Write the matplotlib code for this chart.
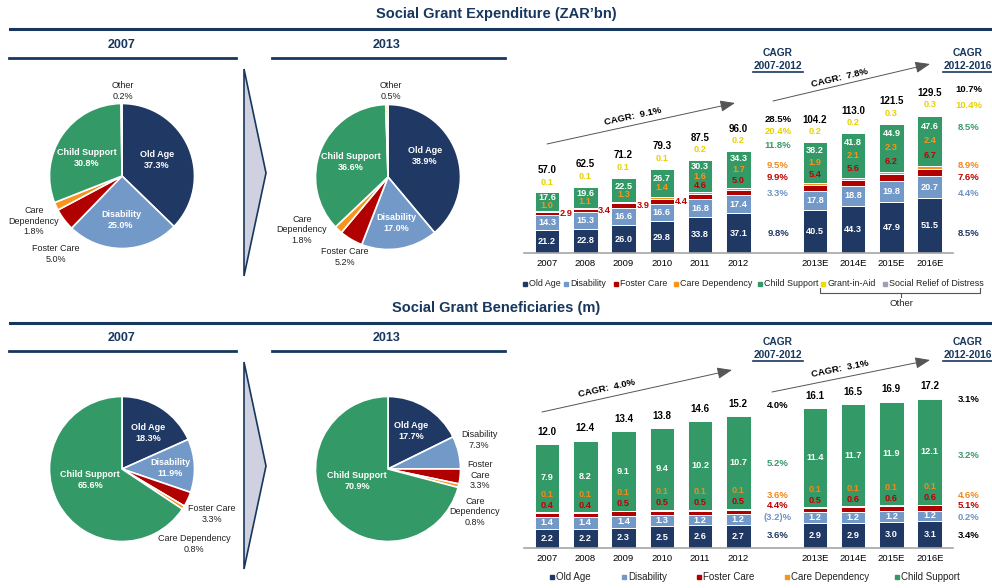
import numpy as np
import matplotlib
matplotlib.use('Agg')
import matplotlib.pyplot as plt
from matplotlib.patches import Polygon

plt.rcParams['font.family'] = ['Liberation Sans', 'DejaVu Sans']

# -=-=-=-=-=- data -=-=-=-=-=- #

years = ['2007', '2008', '2009', '2010', '2011', '2012', '2013E', '2014E', '2015E', '2016E']

# expenditure, ZAR bn
exp_old_age = [21.2, 22.8, 26.0, 29.8, 33.8, 37.1, 40.5, 44.3, 47.9, 51.5]
exp_disability = [14.3, 15.3, 16.6, 16.6, 16.8, 17.4, 17.8, 18.8, 19.8, 20.7]
exp_foster = [2.9, 3.4, 3.9, 4.4, 4.6, 5.0, 5.4, 5.6, 6.2, 6.7]
exp_care_dep = [1.0, 1.1, 1.3, 1.4, 1.6, 1.7, 1.9, 2.1, 2.3, 2.4]
exp_child = [17.6, 19.6, 22.5, 26.7, 30.3, 34.3, 38.2, 41.8, 44.9, 47.6]
exp_gia = [0.1, 0.1, 0.1, 0.1, 0.2, 0.2, 0.2, 0.2, 0.3, 0.3]
exp_srd = [0.1, 0.2, 0.8, 0.3, 0.2, 0.3, 0.2, 0.2, 0.1, 0.3]
exp_total = [57.0, 62.5, 71.2, 79.3, 87.5, 96.0, 104.2, 113.0, 121.5, 129.5]

exp_cagr_07_12 = ['28.5%', '20.4%', '11.8%', '9.5%', '9.9%', '3.3%', '9.8%']
exp_cagr_12_16 = ['10.7%', '10.4%', '8.5%', '8.9%', '7.6%', '4.4%', '8.5%']
exp_cagr_total = ['9.1%', '7.8%']

# beneficiaries, m
ben_old_age = [2.2, 2.2, 2.3, 2.5, 2.6, 2.7, 2.9, 2.9, 3.0, 3.1]
ben_disability = [1.4, 1.4, 1.4, 1.3, 1.2, 1.2, 1.2, 1.2, 1.2, 1.2]
ben_foster = [0.4, 0.4, 0.5, 0.5, 0.5, 0.5, 0.5, 0.6, 0.6, 0.6]
ben_care_dep = [0.1, 0.1, 0.1, 0.1, 0.1, 0.1, 0.1, 0.1, 0.1, 0.1]
ben_child = [7.9, 8.2, 9.1, 9.4, 10.2, 10.7, 11.4, 11.7, 11.9, 12.1]
ben_total = [12.0, 12.4, 13.4, 13.8, 14.6, 15.2, 16.1, 16.5, 16.9, 17.2]

ben_cagr_07_12 = ['4.0%', '5.2%', '3.6%', '4.4%', '(3.2)%', '3.6%']
ben_cagr_12_16 = ['3.1%', '3.2%', '4.6%', '5.1%', '0.2%', '3.4%']
ben_cagr_total = ['4.0%', '3.1%']

# pie shares, %
exp_share_2007 = [37.3, 25.0, 5.0, 1.8, 30.8, 0.2]
exp_share_2013 = [38.9, 17.0, 5.2, 1.8, 36.6, 0.5]
ben_share_2007 = [18.3, 11.9, 3.3, 0.8, 65.6]
ben_share_2013 = [17.7, 7.3, 3.3, 0.8, 70.9]

# -=-=-=-=-=- style -=-=-=-=-=- #

NAVY = '#1F3864'
LBLUE = '#7399C9'
RED = '#B00000'
ORANGE = '#F7941D'
GREEN = '#339966'
YELLOW = '#EEDC00'
GREY = '#9DA1B8'
TITLE = '#17375E'
TXT_YEL = '#E8D200'
TXT_BLUE = '#6F93C6'
TXT_GREEN = '#3A9A6A'
TXT_ORANGE = '#F08A1C'
TXT_RED = '#C00000'

W, H = 992, 588
fig = plt.figure(figsize=(W / 100, H / 100), dpi=100)


def px_axes(x0, y0, x1, y1):
    return fig.add_axes([x0 / W, 1 - y1 / H, (x1 - x0) / W, (y1 - y0) / H])


# overlay for titles, lines, arrows
ov = px_axes(0, 0, W, H)
ov.set_xlim(0, W)
ov.set_ylim(H, 0)
ov.axis('off')
ov.set_zorder(10)
ov.patch.set_alpha(0)

# -=-=-=-=-=- headers -=-=-=-=-=- #

for title, ty, hy in [('Social Grant Expenditure (ZAR\u2019bn)', 14, 45),
                      ('Social Grant Beneficiaries (m)', 308, 338)]:
    ov.text(496, ty, title, ha='center', va='center', fontsize=10.5, fontweight='bold', color=TITLE)
    ov.plot([10, 992], [ty + 15, ty + 15], color=TITLE, lw=2.2)
    ov.text(122, hy, '2007', ha='center', va='center', fontsize=9, fontweight='bold', color=TITLE)
    ov.text(387, hy, '2013', ha='center', va='center', fontsize=9, fontweight='bold', color=TITLE)
    ov.plot([9, 236], [hy + 13, hy + 13], color=TITLE, lw=2)
    ov.plot([272, 505], [hy + 13, hy + 13], color=TITLE, lw=2)
    # chevron between the pies
    top = hy + 24
    chev = Polygon([[244, top], [266, top + 104], [244, top + 207]], closed=True,
                   facecolor='#CFD0E0', edgecolor=TITLE, lw=1.2)
    ov.add_patch(chev)

# -=-=-=-=-=- pies -=-=-=-=-=- #

pie_colors = [NAVY, LBLUE, RED, ORANGE, GREEN, YELLOW]
R = 72.5


def draw_pie(cx, cy, shares):
    ax = px_axes(cx - R, cy - R, cx + R, cy + R)
    ax.pie(shares, colors=pie_colors[:len(shares)], startangle=90, counterclock=False,
           wedgeprops=dict(edgecolor='white', linewidth=1.2))
    ax.set_xlim(-1, 1)
    ax.set_ylim(-1, 1)
    ax.axis('off')


draw_pie(122, 176, exp_share_2007)
draw_pie(388, 177, exp_share_2013)
draw_pie(122, 469, ben_share_2007)
draw_pie(388, 469, ben_share_2013)


def pie_text(x, y, name, share, inside=True):
    if inside:
        ov.text(x, y, f'{name}\n{share:.1f}%', ha='center', va='center', fontsize=6.5,
                fontweight='bold', color='white', linespacing=1.15)
    else:
        ov.text(x, y, f'{name}\n{share:.1f}%', ha='center', va='center', fontsize=6.5,
                color='#222222', linespacing=1.15)


pie_text(157, 160, 'Old Age', exp_share_2007[0])
pie_text(121, 220, 'Disability', exp_share_2007[1])
pie_text(87, 158, 'Child Support', exp_share_2007[4])
pie_text(56, 254, 'Foster Care', exp_share_2007[2], False)
pie_text(34, 221, 'Care\nDependency', exp_share_2007[3], False)
pie_text(123, 91, 'Other', exp_share_2007[5], False)

pie_text(425, 156, 'Old Age', exp_share_2013[0])
pie_text(396, 223, 'Disability', exp_share_2013[1])
pie_text(351, 162, 'Child Support', exp_share_2013[4])
pie_text(345, 257, 'Foster Care', exp_share_2013[2], False)
pie_text(302, 230, 'Care\nDependency', exp_share_2013[3], False)
pie_text(391, 91, 'Other', exp_share_2013[5], False)

pie_text(148, 433, 'Old Age', ben_share_2007[0])
pie_text(170, 468, 'Disability', ben_share_2007[1])
pie_text(90, 480, 'Child Support', ben_share_2007[4])
pie_text(212, 514, 'Foster Care', ben_share_2007[2], False)
pie_text(194, 544, 'Care Dependency', ben_share_2007[3], False)

pie_text(411, 431, 'Old Age', ben_share_2013[0])
pie_text(357, 481, 'Child Support', ben_share_2013[4])
pie_text(479, 440, 'Disability', ben_share_2013[1], False)
pie_text(480, 475, 'Foster\nCare', ben_share_2013[2], False)
pie_text(475, 512, 'Care\nDependency', ben_share_2013[3], False)

# -=-=-=-=-=- stacked bars -=-=-=-=-=- #

X0, STEP = 547, 38.27
xpos = np.array([0, 1, 2, 3, 4, 5, 7, 8, 9, 10])
BW = 0.64


def bar_axes(y0, y1, ppu):
    ax = px_axes(520, y0, 990, y1)
    ax.set_xlim((520 - X0) / STEP, (990 - X0) / STEP)
    ax.set_ylim(0, (y1 - y0) / ppu)
    for s in ax.spines.values():
        s.set_visible(False)
    ax.set_yticks([])
    ax.set_xticks(xpos, years, fontsize=6.8)
    ax.tick_params(axis='x', length=0, pad=4)
    ax.plot([-0.6, 10.6], [0, 0], color='#A6A6A6', lw=1.2, clip_on=False)
    return ax


def stack(ax, series, colors):
    bottom = np.zeros(len(xpos))
    for vals, c in zip(series, colors):
        ax.bar(xpos, vals, BW, bottom=bottom, color=c, edgecolor='white', linewidth=0.7)
        bottom = bottom + np.array(vals)
    return bottom


def lab(ax, x, y, s, color, dy=0, size=6.6, ha='center'):
    ax.annotate(s, (x, y), xytext=(0, dy), textcoords='offset pixels', ha=ha, va='center',
                fontsize=size, fontweight='bold', color=color)


# expenditure chart
PPU_T = 1.066
axt = bar_axes(40, 253, PPU_T)
stack(axt, [exp_old_age, exp_disability, exp_foster, exp_care_dep, exp_child, exp_gia, exp_srd],
      [NAVY, LBLUE, RED, ORANGE, GREEN, YELLOW, GREY])

for i, x in enumerate(xpos):
    oa, dis, fc, cd, cs = exp_old_age[i], exp_disability[i], exp_foster[i], exp_care_dep[i], exp_child[i]
    lab(axt, x, oa / 2, f'{oa:.1f}', 'white')
    lab(axt, x, oa + dis / 2, f'{dis:.1f}', 'white')
    lab(axt, x, exp_total[i], f'{exp_total[i]:.1f}', 'black', dy=22, size=7)
    lab(axt, x, exp_total[i], f'{exp_gia[i]:.1f}', TXT_YEL, dy=10)
    g0 = oa + dis + fc + cd
    inner = [(f'{cs:.1f}', 'white'), (f'{cd:.1f}', ORANGE)]
    if i < 4:
        lab(axt, x + 0.5, oa + dis + fc / 2, f'{fc:.1f}', TXT_RED)
    else:
        inner.append((f'{fc:.1f}', TXT_RED))
    gap = max(8, 0.29 * cs * PPU_T)
    mid = g0 + cs / 2
    n = len(inner)
    for k, (s, c) in enumerate(inner):
        lab(axt, x, mid, s, c, dy=-(k - (n - 1) / 2) * gap)

# beneficiaries chart
PPU_B = 8.7
axb = bar_axes(330, 548, PPU_B)
stack(axb, [ben_old_age, ben_disability, ben_foster, ben_care_dep, ben_child],
      [NAVY, LBLUE, RED, ORANGE, GREEN])

for i, x in enumerate(xpos):
    oa, dis, fc, cd, cs = ben_old_age[i], ben_disability[i], ben_foster[i], ben_care_dep[i], ben_child[i]
    lab(axb, x, oa / 2, f'{oa:.1f}', 'white')
    lab(axb, x, oa + dis / 2, f'{dis:.1f}', 'white')
    g0 = oa + dis + fc + cd
    lab(axb, x, g0 + cs / 2, f'{cs:.1f}', 'white')
    lab(axb, x, g0, f'{fc:.1f}', TXT_RED, dy=7)
    lab(axb, x, g0, f'{cd:.1f}', TXT_ORANGE, dy=18)
    lab(axb, x, ben_total[i], f'{ben_total[i]:.1f}', 'black', dy=12, size=7)

# -=-=-=-=-=- CAGR columns -=-=-=-=-=- #

exp_cagr_cols = ['black', TXT_YEL, TXT_GREEN, TXT_ORANGE, TXT_RED, TXT_BLUE, NAVY]
for s, y, c in zip(exp_cagr_07_12, [119, 132, 146, 166, 177, 194, 233], exp_cagr_cols):
    ov.text(778, y, s, ha='center', va='center', fontsize=6.8, fontweight='bold', color=c)
for s, y, c in zip(exp_cagr_12_16, [89, 106, 127, 166, 177, 194, 233], exp_cagr_cols):
    ov.text(969, y, s, ha='center', va='center', fontsize=6.8, fontweight='bold', color=c)

ben_cols_a = ['black', TXT_GREEN, TXT_ORANGE, TXT_RED, TXT_BLUE, NAVY]
ben_cols_b = ['black', TXT_GREEN, TXT_ORANGE, TXT_RED, TXT_BLUE, 'black']
for s, y, c in zip(ben_cagr_07_12, [405, 463, 495, 506, 518, 535], ben_cols_a):
    ov.text(778, y, s, ha='center', va='center', fontsize=6.8, fontweight='bold', color=c)
for s, y, c in zip(ben_cagr_12_16, [399, 455, 495, 506, 518, 535], ben_cols_b):
    ov.text(969, y, s, ha='center', va='center', fontsize=6.8, fontweight='bold', color=c)

for y in [53, 342]:
    for x, period in [(778, '2007-2012'), (968, '2012-2016')]:
        ov.text(x, y, 'CAGR', ha='center', va='center', fontsize=7.4, fontweight='bold', color=TITLE)
        ov.text(x, y + 13, period, ha='center', va='center', fontsize=7.4, fontweight='bold', color=TITLE)
        ov.plot([x - 25, x + 25], [y + 19, y + 19], color=TITLE, lw=1.2)


# trend arrows
def trend(p0, p1, lx, ly, s):
    ov.annotate('', xy=p1, xytext=p0,
                arrowprops=dict(arrowstyle='-|>,head_length=0.9,head_width=0.35', color='#555555',
                                lw=0.7, shrinkA=0, shrinkB=0))
    ang = np.degrees(np.arctan2(p0[1] - p1[1], p1[0] - p0[0]))
    ov.text(lx, ly, f'CAGR:  {s}', ha='center', va='center', fontsize=6.8, fontweight='bold',
            rotation=ang, rotation_mode='anchor')


trend((547, 144), (735, 103), 633, 116, exp_cagr_total[0])
trend((773, 101), (930, 64), 840, 78, exp_cagr_total[1])
trend((542, 412), (732, 370), 607, 388, ben_cagr_total[0])
trend((772, 392), (930, 360), 840, 369, ben_cagr_total[1])

# -=-=-=-=-=- legends -=-=-=-=-=- #


def legend_item(x, y, color, label, size):
    ov.plot([x], [y], marker='s', markersize=3.3, color=color, linestyle='none')
    ov.text(x + 4, y, label, ha='left', va='center', fontsize=size, color='#222222')


top_leg = [(525, NAVY, 'Old Age'), (566, LBLUE, 'Disability'), (616, RED, 'Foster Care'),
           (676, ORANGE, 'Care Dependency'), (760, GREEN, 'Child Support'),
           (823, YELLOW, 'Grant-in-Aid'), (885, GREY, 'Social Relief of Distress')]
for x, c, name in top_leg:
    legend_item(x, 284, c, name, 6.4)

ov.plot([820, 820, 980, 980], [288, 293, 293, 288], color='#555555', lw=0.8)
ov.plot([901, 901], [293, 297], color='#555555', lw=0.8)
ov.text(901, 304, 'Other', ha='center', va='center', fontsize=6.8, color='#222222')

bot_leg = [(552, NAVY, 'Old Age'), (624, LBLUE, 'Disability'), (699, RED, 'Foster Care'),
           (787, ORANGE, 'Care Dependency'), (897, GREEN, 'Child Support')]
for x, c, name in bot_leg:
    legend_item(x, 577, c, name, 7)

fig.savefig('out.png', dpi=100)
